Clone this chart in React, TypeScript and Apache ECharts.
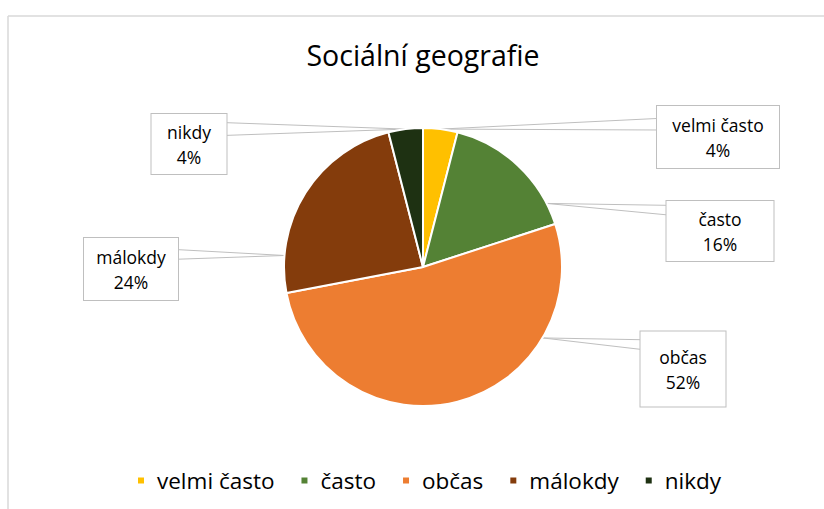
import React, { useEffect, useRef } from "react";
import * as echarts from "echarts";

const categories = ["velmi často", "často", "občas", "málokdy", "nikdy"];
const values = [4, 16, 52, 24, 4];
const colors = ["#FFC000", "#548235", "#ED7D31", "#843C0C", "#1E3112"];
// label callout boxes: [centerX, centerY, width, height]
const labelBoxes = [
  [718, 137, 122, 62],
  [720, 231, 107, 60],
  [683, 369, 85, 75],
  [131, 269, 94, 62],
  [189, 144, 75, 60],
];
// where, inside each slice (0..1 of its span), the callout points
const calloutAnchor = [0.5, 0.84, 0.26, 0.18, 0.5];

const FONT = "'Open Sans', sans-serif";
const CX = 423;
const CY = 267;
const R = 139;

export default function App() {
  const ref = useRef<HTMLDivElement>(null);
  useEffect(() => {
    if (!ref.current) return;
    const chart = echarts.init(ref.current, undefined, { renderer: "svg" });
    const lh = 25;
    const total = values.reduce((a, b) => a + b, 0);
    const starts: number[] = [];
    let acc = 0;
    values.forEach((v) => {
      starts.push(acc);
      acc += v;
    });
    const data = categories.map((name, i) => {
      const [, , w, h] = labelBoxes[i];
      const pv = (h - 2 * lh) / 2;
      return {
        name,
        value: values[i],
        itemStyle: { color: colors[i] },
        label: { width: w, padding: [pv, 0, pv, 0] },
      };
    });
    chart.setOption({
      animation: false,
      backgroundColor: "#fff",
      textStyle: { fontFamily: FONT },
      title: {
        text: "Sociální geografie",
        left: 418,
        textAlign: "center",
        top: 35,
        textStyle: { fontFamily: FONT, fontSize: 28.5, fontWeight: "normal", color: "#000" },
      },
      legend: {
        left: 131,
        top: 464,
        itemWidth: 8,
        itemHeight: 8,
        itemGap: 25,
        icon: "rect",
        data: categories,
        textStyle: { fontFamily: FONT, fontSize: 22.5, color: "#000", padding: [0, 0, 0, 7] },
      },
      graphic: [
        { type: "line", shape: { x1: 8, y1: 16, x2: 824, y2: 16 }, style: { stroke: "#D9D9D9", lineWidth: 1.5 } },
        { type: "line", shape: { x1: 8, y1: 16, x2: 8, y2: 509 }, style: { stroke: "#D9D9D9", lineWidth: 1.5 } },
      ],
      series: [
        {
          type: "pie",
          center: [CX, CY],
          radius: R,
          startAngle: 90,
          clockwise: true,
          itemStyle: { borderColor: "#fff", borderWidth: 2 },
          label: {
            show: true,
            position: "outside",
            formatter: "{b}\n{c}%",
            fontFamily: FONT,
            fontSize: 17.5,
            lineHeight: lh,
            color: "#000",
            backgroundColor: "#fff",
            borderColor: "#BFBFBF",
            borderWidth: 1,
            align: "center",
          },
          labelLine: { show: true, lineStyle: { color: "#BFBFBF", width: 1 }, length: 20, length2: 20 },
          labelLayout: (params: any) => {
            const i = params.dataIndex;
            const b = labelBoxes[i];
            const frac = (starts[i] + values[i] * calloutAnchor[i]) / total;
            const ang = frac * Math.PI * 2;
            const tip = [CX + R * Math.sin(ang), CY - R * Math.cos(ang)];
            const left = b[0] - b[2] / 2;
            const right = b[0] + b[2] / 2;
            const top = b[1] - b[3] / 2;
            const ex = tip[0] < b[0] ? right : left;
            const yc = top + b[3] * 0.25;
            return {
              x: b[0],
              y: b[1],
              align: "center",
              verticalAlign: "middle",
              labelLinePoints: [
                [ex, yc - 9],
                tip,
                [ex, yc + 9],
              ],
            };
          },
          emphasis: { disabled: true },
          data,
        },
      ],
    });
    return () => chart.dispose();
  }, []);
  return (
    <div
      ref={ref}
      style={{ position: "fixed", left: 0, top: 0, width: 824, height: 509 }}
    />
  );
}
